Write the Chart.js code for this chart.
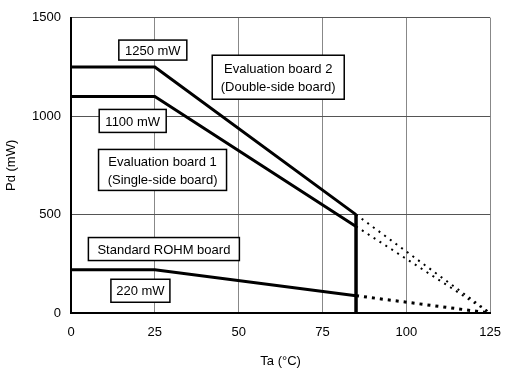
<!DOCTYPE html>
<html>
<head>
<meta charset="utf-8">
<script src="https://cdn.jsdelivr.net/npm/chart.js@4"></script>
<style>
  html, body { margin: 0; padding: 0; background: #fff; }
  #wrap { width: 513px; height: 370px; }
</style>
</head>
<body>
<div id="wrap"><canvas id="pdChart" width="513" height="370"></canvas></div>
<script>
// solid part of the derating curves
const tempSolid = [0, 25, 85];
const board2Solid = [1250, 1250, 500];
const board1Solid = [1100, 1100, 440];
const rohmSolid = [220, 220, 88];

// dotted extension to 125 degC
const tempDotted = [85, 125];
const board2Dotted = [500, 0];
const board1Dotted = [440, 0];
const rohmDotted = [88, 0];

// vertical cut-off at 85 degC
const cutTemp = [85, 85];
const cutPower = [0, 500];

const xTicks = [0, 25, 50, 75, 100, 125];
const yTicks = [0, 500, 1000, 1500];

function pts(xs, ys) {
  return xs.map((x, i) => ({ x: x, y: ys[i] }));
}

function solid(data, width) {
  return { data: data, borderColor: "#000", borderWidth: width || 3, pointRadius: 0, fill: false };
}
function dotted(data, width, dash) {
  return { data: data, borderColor: "#000", borderWidth: width, borderDash: dash, pointRadius: 0, fill: false };
}

// text boxes, placed in data coordinates
const boxes = [
  { lines: ["1250 mW"], x: 24.4, y: 1336, w: 68, h: 20 },
  { lines: ["1100 mW"], x: 18.4, y: 976, w: 67, h: 23 },
  { lines: ["Evaluation board 2", "(Double-side board)"], x: 61.8, y: 1198, w: 132, h: 44 },
  { lines: ["Evaluation board 1", "(Single-side board)"], x: 27.3, y: 727, w: 128, h: 41 },
  { lines: ["Standard ROHM board"], x: 27.7, y: 325, w: 151, h: 23 },
  { lines: ["220 mW"], x: 20.7, y: 113, w: 59, h: 23 },
];

const boxPlugin = {
  id: "boxes",
  afterDatasetsDraw(chart) {
    const c = chart.ctx;
    const xs = chart.scales.x, ys = chart.scales.y;
    c.save();
    c.font = "13px 'Liberation Sans', Arial, sans-serif";
    c.textAlign = "center";
    c.textBaseline = "middle";
    boxes.forEach(b => {
      const cx = xs.getPixelForValue(b.x);
      const cy = ys.getPixelForValue(b.y);
      c.fillStyle = "#fff";
      c.fillRect(cx - b.w / 2, cy - b.h / 2, b.w, b.h);
      c.strokeStyle = "#000";
      c.lineWidth = 1.5;
      c.strokeRect(cx - b.w / 2, cy - b.h / 2, b.w, b.h);
      c.fillStyle = "#000";
      const lh = 18;
      b.lines.forEach((t, i) => {
        c.fillText(t, cx, cy + (i - (b.lines.length - 1) / 2) * lh + 1);
      });
    });
    c.restore();
  }
};

const tickFont = { family: "'Liberation Sans', Arial", size: 13 };

const ctx = document.getElementById("pdChart").getContext("2d");
const pdChart = new Chart(ctx, {
  type: "line",
  data: {
    datasets: [
      solid(pts(tempSolid, board2Solid)),
      solid(pts(tempSolid, board1Solid)),
      solid(pts(tempSolid, rohmSolid)),
      solid(pts(cutTemp, cutPower), 3.5),
      dotted(pts(tempDotted, board2Dotted), 2, [2, 5]),
      dotted(pts(tempDotted, board1Dotted), 2, [2, 5]),
      dotted(pts(tempDotted, rohmDotted), 3, [3, 5]),
    ],
  },
  options: {
    responsive: false,
    animation: false,
    layout: { padding: { top: 16, right: 11, left: 0, bottom: 0 } },
    plugins: { legend: { display: false }, tooltip: { enabled: false } },
    scales: {
      x: {
        type: "linear",
        min: 0,
        max: 125,
        afterBuildTicks: s => { s.ticks = xTicks.map(v => ({ value: v })); },
        afterFit: s => { s.height = 57; },
        grid: { color: "#888", lineWidth: 1, drawTicks: false },
        border: { color: "#000", width: 2 },
        ticks: { color: "#000", padding: 12, font: tickFont, callback: v => String(v) },
        title: { display: true, text: "Ta (°C)", color: "#000", padding: { top: 6, bottom: 1 }, font: tickFont },
      },
      y: {
        type: "linear",
        min: 0,
        max: 1500,
        afterBuildTicks: s => { s.ticks = yTicks.map(v => ({ value: v })); },
        afterFit: s => { s.width = 71; },
        grid: { color: "#555", lineWidth: 1, drawTicks: false },
        border: { color: "#000", width: 2 },
        ticks: { color: "#000", padding: 10, font: tickFont, callback: v => String(v) },
        title: { display: true, text: "Pd (mW)", color: "#000", padding: { top: 4, bottom: 4 }, font: tickFont },
      },
    },
  },
  plugins: [boxPlugin],
});
</script>
</body>
</html>
